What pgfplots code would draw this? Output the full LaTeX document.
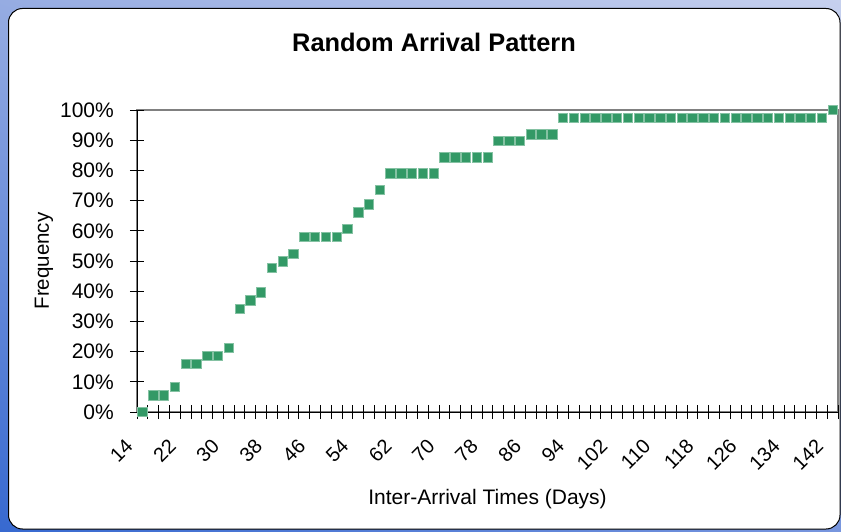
\documentclass[border=0pt]{standalone}
\usepackage{fontspec}
\setmainfont{Liberation Sans}
\usepackage{pgfplots}
\pgfplotsset{compat=1.18}
\usetikzlibrary{shadings}
\definecolor{seagrn}{RGB}{51,153,102}
\definecolor{bgUL}{RGB}{150,172,226}
\definecolor{bgUR}{RGB}{198,208,238}
\definecolor{bgLL}{RGB}{55,105,208}
\definecolor{bgLR}{RGB}{120,150,222}
\begin{document}
\begin{tikzpicture}[x=1pt,y=1pt]
\shade[upper left=bgUL, upper right=bgUR, lower left=bgLL, lower right=bgLR] (0,0) rectangle (841,531);
\draw[black, line width=1pt, fill=white, rounded corners=14pt] (8.5,2) rectangle (840,522.5);
\begin{axis}[
  scale only axis, width=701pt, height=302pt,
  at={(137pt,119pt)}, anchor=south west,
  xmin=-0.5, xmax=64.5, ymin=0, ymax=100,
  clip=false,
  axis lines=left,
  axis line style={-, black, line width=1pt},
  every inner x axis line/.append style={-},
  every inner y axis line/.append style={-},
  axis background/.style={draw=gray, line width=1.2pt},
  tick align=center,
  major tick length=14pt,
  tick style={black, line width=0.8pt},
  xtick={-0.5,0.5,...,64.5},
  xticklabels={},
  extra x ticks={0,4,...,64},
  extra x tick labels={14,22,30,38,46,54,62,70,78,86,94,102,110,118,126,134,142},
  extra x tick style={major tick length=0pt, grid=none},
  xticklabel style={anchor=east, inner sep=0pt, xshift=-13pt, yshift=-31pt, rotate=45, font=\fontsize{20}{23}\selectfont},
  ytick={0,10,...,100},
  yticklabels={0\%,10\%,20\%,30\%,40\%,50\%,60\%,70\%,80\%,90\%,100\%},
  yticklabel style={anchor=east, inner sep=0pt, xshift=-16pt, font=\fontsize{21}{24}\selectfont},
  title={Random Arrival Pattern},
  title style={at={(axis description cs:0.4237,1.205)}, anchor=center, inner sep=0pt, font=\fontsize{25.4}{30}\selectfont\bfseries},
  xlabel={Inter-Arrival Times (Days)},
  xlabel style={at={(axis description cs:0.5,-0.288)}, anchor=center, inner sep=0pt, font=\fontsize{21}{24}\selectfont},
  ylabel={Frequency},
  ylabel style={at={(axis description cs:-0.1327,0.5)}, anchor=center, inner sep=0pt, rotate=0, font=\fontsize{20.5}{24}\selectfont},
]
\addplot[only marks, mark=square*, mark size=4.7pt, mark options={fill=seagrn, draw=seagrn!60!white, line width=0.5pt}] coordinates {
(0,0) (1,5.6) (2,5.6) (3,8.4) (4,15.9) (5,15.9) (6,18.7) (7,18.7) (8,21.3)
(9,34.2) (10,37.0) (11,39.6) (12,47.8) (13,49.9) (14,52.5) (15,58.0) (16,58.0)
(17,58.0) (18,58.0) (19,60.7) (20,66.1) (21,68.8) (22,73.5) (23,79.0) (24,79.0)
(25,79.0) (26,79.0) (27,79.0) (28,84.3) (29,84.3) (30,84.3) (31,84.3) (32,84.3)
(33,89.8) (34,89.8) (35,89.8) (36,92.0) (37,92.0) (38,92.0)
(39,97.4) (40,97.4) (41,97.4) (42,97.4) (43,97.4) (44,97.4) (45,97.4) (46,97.4)
(47,97.4) (48,97.4) (49,97.4) (50,97.4) (51,97.4) (52,97.4) (53,97.4) (54,97.4)
(55,97.4) (56,97.4) (57,97.4) (58,97.4) (59,97.4) (60,97.4) (61,97.4) (62,97.4)
(63,97.4) (64,100)
};
\end{axis}
\pgfresetboundingbox
\useasboundingbox (0,0) rectangle (841,531);
\end{tikzpicture}
\end{document}
